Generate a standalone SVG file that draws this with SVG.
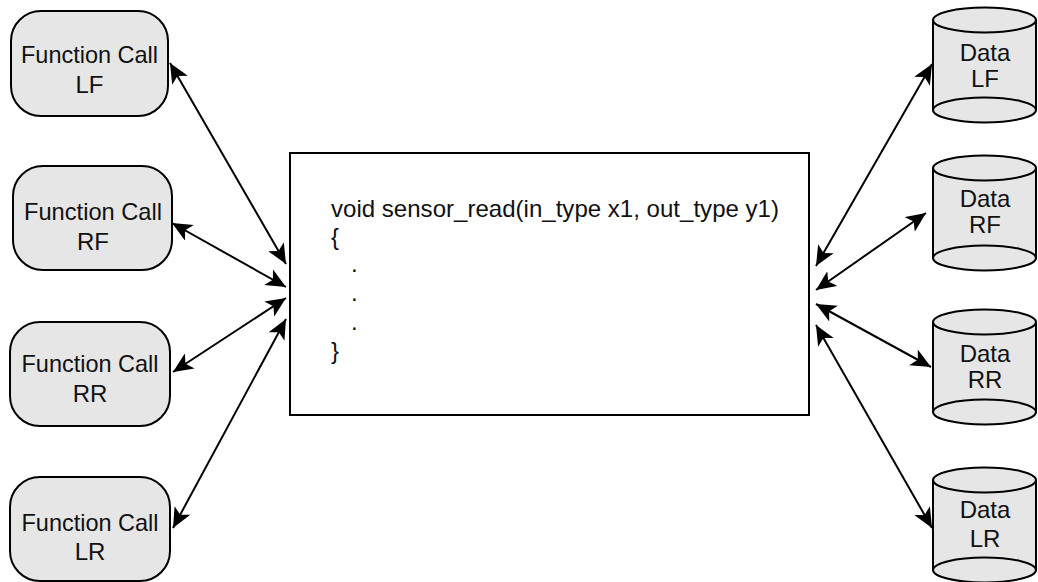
<svg xmlns="http://www.w3.org/2000/svg" width="1038" height="582" viewBox="0 0 1038 582">
<style>
  .fc { fill: #e6e6e6; stroke: #000; stroke-width: 2; }
  .cyl { fill: #e6e6e6; stroke: #000; stroke-width: 2; }
  .cylbody { fill: #e6e6e6; stroke: none; }
  .side { stroke: #000; stroke-width: 2; }
  .main { fill: #fff; stroke: #000; stroke-width: 2; }
  text { font-family: "Liberation Sans", Arial, sans-serif; font-size: 24px; fill: #111; }
  .c { text-anchor: middle; }
  .conn { stroke: #000; stroke-width: 2; fill: none; marker-start: url(#ah); marker-end: url(#ah); }
</style>
<defs>
  <marker id="ah" markerUnits="userSpaceOnUse" markerWidth="22" markerHeight="20" viewBox="0 0 22 20" refX="20" refY="9" orient="auto-start-reverse">
    <path d="M0,0 L20,9 L0,18 L5,9 Z" fill="#000"/>
  </marker>
</defs>
<rect width="1038" height="582" fill="#fff"/>

<g id="connectors">
  <line class="conn" x1="170" y1="63" x2="286" y2="264"/>
  <line class="conn" x1="172" y1="223" x2="286" y2="287"/>
  <line class="conn" x1="173" y1="372" x2="286" y2="298"/>
  <line class="conn" x1="173" y1="528" x2="286" y2="319"/>
  <line class="conn" x1="932" y1="64" x2="816" y2="266"/>
  <line class="conn" x1="926" y1="213" x2="816" y2="290"/>
  <line class="conn" x1="931" y1="367" x2="816" y2="304"/>
  <line class="conn" x1="932" y1="528" x2="816" y2="325"/>
</g>

<g id="main">
  <rect class="main" x="290" y="153" width="519" height="262"/>
  <text x="331" y="217" textLength="448" lengthAdjust="spacingAndGlyphs">void sensor_read(in_type x1, out_type y1)</text>
  <text x="331" y="245">{</text>
  <text x="351" y="272">.</text>
  <text x="351" y="301">.</text>
  <text x="351" y="330">.</text>
  <text x="331" y="359">}</text>
</g>

<g id="fc-lf">
  <rect class="fc" x="11" y="11" width="157" height="105" rx="30" ry="30"/>
  <text class="c" x="89.5" y="63" textLength="137" lengthAdjust="spacingAndGlyphs">Function Call</text>
  <text class="c" x="89.5" y="93">LF</text>
</g>
<g id="fc-rf">
  <rect class="fc" x="13" y="166" width="159" height="104" rx="30" ry="30"/>
  <text class="c" x="93" y="220" textLength="138" lengthAdjust="spacingAndGlyphs">Function Call</text>
  <text class="c" x="93" y="250">RF</text>
</g>
<g id="fc-rr">
  <rect class="fc" x="10" y="322" width="160" height="104" rx="30" ry="30"/>
  <text class="c" x="90" y="372" textLength="137" lengthAdjust="spacingAndGlyphs">Function Call</text>
  <text class="c" x="90" y="402">RR</text>
</g>
<g id="fc-lr">
  <rect class="fc" x="10" y="477" width="160" height="104" rx="30" ry="30"/>
  <text class="c" x="90" y="531" textLength="137" lengthAdjust="spacingAndGlyphs">Function Call</text>
  <text class="c" x="90" y="560">LR</text>
</g>

<g id="data-lf" transform="translate(0,20)">
  <rect class="cylbody" x="933" y="0" width="103" height="90"/>
  <line class="side" x1="933" y1="0" x2="933" y2="90"/>
  <line class="side" x1="1036" y1="0" x2="1036" y2="90"/>
  <ellipse class="cyl" cx="984.5" cy="90" rx="51.5" ry="12.5"/>
  <ellipse class="cyl" cx="984.5" cy="0" rx="51.5" ry="12.5"/>
  <text class="c" x="985" y="41">Data</text>
  <text class="c" x="985" y="67">LF</text>
</g>
<g id="data-rf" transform="translate(0,168)">
  <rect class="cylbody" x="933" y="0" width="103" height="90"/>
  <line class="side" x1="933" y1="0" x2="933" y2="90"/>
  <line class="side" x1="1036" y1="0" x2="1036" y2="90"/>
  <ellipse class="cyl" cx="984.5" cy="90" rx="51.5" ry="12.5"/>
  <ellipse class="cyl" cx="984.5" cy="0" rx="51.5" ry="12.5"/>
  <text class="c" x="985" y="39">Data</text>
  <text class="c" x="985" y="65">RF</text>
</g>
<g id="data-rr" transform="translate(0,322)">
  <rect class="cylbody" x="933" y="0" width="103" height="90"/>
  <line class="side" x1="933" y1="0" x2="933" y2="90"/>
  <line class="side" x1="1036" y1="0" x2="1036" y2="90"/>
  <ellipse class="cyl" cx="984.5" cy="90" rx="51.5" ry="12.5"/>
  <ellipse class="cyl" cx="984.5" cy="0" rx="51.5" ry="12.5"/>
  <text class="c" x="985" y="40">Data</text>
  <text class="c" x="985" y="66">RR</text>
</g>
<g id="data-lr" transform="translate(0,480)">
  <rect class="cylbody" x="933" y="0" width="103" height="90"/>
  <line class="side" x1="933" y1="0" x2="933" y2="90"/>
  <line class="side" x1="1036" y1="0" x2="1036" y2="90"/>
  <ellipse class="cyl" cx="984.5" cy="90" rx="51.5" ry="12.5"/>
  <ellipse class="cyl" cx="984.5" cy="0" rx="51.5" ry="12.5"/>
  <text class="c" x="985" y="38">Data</text>
  <text class="c" x="985" y="67">LR</text>
</g>
</svg>
